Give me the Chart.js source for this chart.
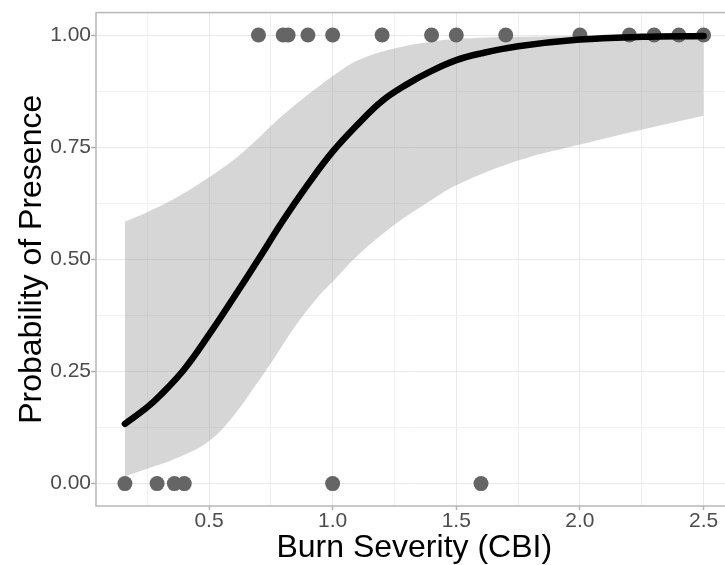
<!DOCTYPE html>
<html lang="en">
<head>
<meta charset="UTF-8">
<title>Probability of Presence vs Burn Severity</title>
<script src="https://cdn.jsdelivr.net/npm/chart.js"></script>
<style>
  html, body {
    margin: 0;
    padding: 0;
    background: #ffffff;
    overflow: hidden;
  }
  canvas { display: block; }
</style>
</head>
<body>

<canvas id="fitChart" width="740" height="565"></canvas>

<script>
// observed sites: burn severity (CBI) where the species was present / absent
const presenceX = [0.7, 0.8, 0.82, 0.9, 1.0, 1.2, 1.4, 1.5, 1.7, 2.0, 2.2, 2.3, 2.4, 2.5];
const absenceX = [0.16, 0.29, 0.36, 0.4, 1.0, 1.6];

// fitted logistic curve
const fitX = [0.16, 0.25, 0.3, 0.4, 0.5, 0.6, 0.7, 0.8, 0.9, 1.0, 1.1, 1.2, 1.3, 1.4, 1.5, 1.6, 1.75, 2.0, 2.25, 2.5];
const fitY = [0.133, 0.17, 0.195, 0.255, 0.332, 0.415, 0.50, 0.587, 0.667, 0.74, 0.80, 0.853, 0.89, 0.92, 0.944, 0.959, 0.975, 0.99, 0.996, 0.998];

// confidence band
const bandX = [0.16, 0.25, 0.375, 0.5, 0.6, 0.7, 0.75, 0.85, 0.95, 1.0, 1.1, 1.25, 1.4, 1.5, 1.75, 2.0, 2.25, 2.5];
const bandUpper = [0.584, 0.605, 0.64, 0.683, 0.722, 0.77, 0.797, 0.845, 0.888, 0.908, 0.943, 0.97, 0.985, 0.991, 0.996, 0.998, 0.999, 1.0];
const bandLower = [0.016, 0.033, 0.058, 0.095, 0.152, 0.228, 0.268, 0.352, 0.422, 0.45, 0.508, 0.577, 0.632, 0.665, 0.72, 0.756, 0.789, 0.82];

// axis ticks (major carry labels, minor only grid lines)
const xTicks = [0.5, 1.0, 1.5, 2.0, 2.5];
const xMinor = [0.25, 0.75, 1.25, 1.75, 2.25];
const yTicks = [0.0, 0.25, 0.5, 0.75, 1.0];
const yMinor = [0.125, 0.375, 0.625, 0.875];

const FONT = "'Liberation Sans', Arial, sans-serif";

function pts(xs, ys) {
    return xs.map((x, i) => ({ x: x, y: ys[i] }));
}

const panelBorder = {
    id: 'panelBorder',
    beforeDatasetsDraw(chart) {
        const a = chart.chartArea;
        const c = chart.ctx;
        c.save();
        c.strokeStyle = '#b8b8b8';
        c.lineWidth = 1.5;
        c.strokeRect(a.left, a.top, a.right - a.left, a.bottom - a.top);
        c.restore();
    }
};

function axisOpts(major, minor, min, max, digits, size, title, titlePad, tickLen, tickPad) {
    return {
        type: 'linear',
        min: min,
        max: max,
        afterBuildTicks: (scale) => {
            scale.ticks = major.concat(minor).sort((a, b) => a - b).map(v => ({ value: v }));
        },
        afterFit: (scale) => {
            if (scale.isHorizontal()) scale.height = size;
            else scale.width = size;
        },
        ticks: {
            autoSkip: false,
            maxRotation: 0,
            padding: tickPad,
            color: '#4d4d4d',
            font: { family: FONT, size: 21 },
            callback: (v) => major.includes(v) ? v.toFixed(digits) : ''
        },
        grid: {
            color: (ctx) => major.includes(ctx.tick.value) ? '#e8e8e8' : '#f1f1f1',
            lineWidth: 1,
            tickLength: tickLen,
            tickColor: (ctx) => major.includes(ctx.tick.value) ? '#b3b3b3' : 'rgba(0,0,0,0)',
            tickWidth: 1.5
        },
        border: { display: false },
        title: {
            display: true,
            text: title,
            color: '#000000',
            font: { family: FONT, size: 32 },
            padding: titlePad
        }
    };
}

const ctx = document.getElementById('fitChart').getContext('2d');
new Chart(ctx, {
    type: 'scatter',
    data: {
        datasets: [
            {
                label: 'fit',
                data: pts(fitX, fitY),
                showLine: true,
                borderColor: '#000000',
                borderWidth: 6.5,
                borderCapStyle: 'round',
                pointRadius: 0,
                tension: 0.4,
                fill: false
            },
            {
                label: 'observed',
                data: pts(presenceX, presenceX.map(() => 1)).concat(pts(absenceX, absenceX.map(() => 0))),
                backgroundColor: '#656565',
                borderWidth: 0,
                pointRadius: 7.5
            },
            {
                label: 'lower',
                data: pts(bandX, bandLower),
                showLine: true,
                borderColor: 'rgba(0,0,0,0)',
                pointRadius: 0,
                tension: 0.4,
                fill: false
            },
            {
                label: 'upper',
                data: pts(bandX, bandUpper),
                showLine: true,
                borderColor: 'rgba(0,0,0,0)',
                backgroundColor: 'rgba(153,153,153,0.4)',
                pointRadius: 0,
                tension: 0.4,
                fill: '-1'
            }
        ]
    },
    options: {
        responsive: false,
        animation: false,
        layout: { padding: { top: 11, right: 4, left: 0, bottom: 0 } },
        plugins: {
            legend: { display: false },
            tooltip: { enabled: false }
        },
        scales: {
            x: axisOpts(xTicks, xMinor, 0.043, 2.617, 1, 59, 'Burn Severity (CBI)', { top: 0, bottom: -2 }, 4, -1),
            y: axisOpts(yTicks, yMinor, -0.05, 1.05, 2, 96, 'Probability of Presence', { top: 13, bottom: 0 }, 5, 0)
        }
    },
    plugins: [panelBorder]
});
</script>

</body>
</html>
